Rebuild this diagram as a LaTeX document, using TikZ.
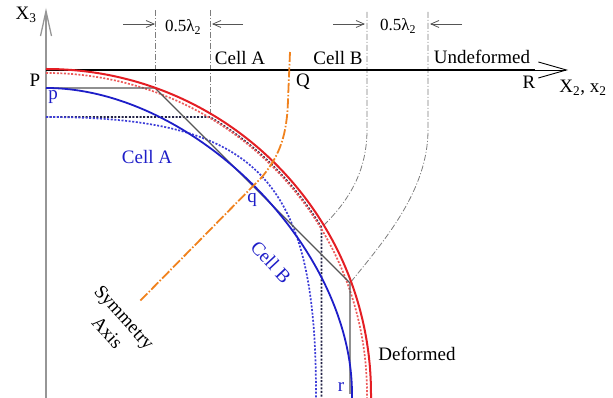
\documentclass[tikz,border=0pt]{standalone}
\usepackage{fontspec}
\setmainfont{Liberation Serif}
\usetikzlibrary{arrows.meta}
\definecolor{redc}{RGB}{228,30,36}
\definecolor{reddot}{RGB}{236,90,90}
\definecolor{bluec}{RGB}{30,30,200}
\definecolor{bluedot}{RGB}{60,60,215}
\definecolor{navydot}{RGB}{35,35,70}
\definecolor{orangec}{RGB}{240,130,30}
\definecolor{grayline}{RGB}{85,85,85}
\definecolor{ddgray}{RGB}{125,125,125}
\definecolor{axisgray}{RGB}{150,150,150}
\begin{document}
\begin{tikzpicture}[x=1pt,y=1pt,
  lbl/.style={inner sep=0pt, font=\fontsize{19}{23}\selectfont},
  smalllbl/.style={inner sep=0pt, font=\fontsize{17}{20}\selectfont},
  bluelbl/.style={lbl, text=bluec},
  redline/.style={redc, line width=2pt},
  reddotted/.style={reddot, line width=1.7pt, dash pattern=on 2pt off 1.6pt},
  blueline/.style={bluec, line width=1.8pt},
  bluedotted/.style={bluedot, line width=1.7pt, dash pattern=on 2pt off 1.6pt},
  navydotted/.style={navydot, line width=1.7pt, dash pattern=on 2pt off 1.6pt},
  polyline/.style={grayline, line width=1.3pt},
  dashdot/.style={ddgray, line width=0.8pt, dash pattern=on 6pt off 2pt on 1pt off 2pt},
  orangeline/.style={orangec, line width=1.8pt, dash pattern=on 10pt off 2pt on 1.5pt off 2pt},
  dimarrow/.style={grayline, line width=0.8pt, -{Straight Barb[length=8pt,width=7pt]}},
]
\useasboundingbox (0,0) rectangle (613,398);
% key points
\coordinate (Ybot) at (46,0);
\coordinate (Ytop) at (46,390);
\coordinate (P) at (46,328);
\coordinate (Rend) at (535,328);
\coordinate (Xtip) at (568,328);
\coordinate (redtop) at (46,329);
\coordinate (reddtop) at (46,325);
\coordinate (p) at (46,310);
\coordinate (A) at (155,310);
\coordinate (C) at (350,115);
\coordinate (rb) at (350,4);
\coordinate (blueend) at (352,4);
\coordinate (dtop) at (46,281);
\coordinate (D1) at (210,281);
\coordinate (D2) at (321.4,170.5);
\coordinate (bdend) at (316,4);
% dash-dot mapping lines
\coordinate (L1) at (155,388);
\coordinate (L2) at (210,388);
\coordinate (L3) at (367,386);
\coordinate (L3b) at (367,268);
\coordinate (L4) at (428,386);
\coordinate (L4b) at (428,268);
\draw[dashdot] (L1) -- (A);
\draw[dashdot] (L2) -- (D1);
\draw[dashdot] (L3) -- (L3b) .. controls (367,223) and (345,193) .. (D2);
\draw[dashdot] (L4) -- (L4b) .. controls (428,208) and (385,158) .. (C);
% dimension arrows
\coordinate (a1s) at (123,374); \coordinate (a1e) at (155,374);
\coordinate (a2s) at (243,374); \coordinate (a2e) at (212,374);
\coordinate (a3s) at (333,374); \coordinate (a3e) at (365,374);
\coordinate (a4s) at (462,374); \coordinate (a4e) at (430,374);
\draw[dimarrow] (a1s) -- (a1e);
\draw[dimarrow] (a2s) -- (a2e);
\draw[dimarrow] (a3s) -- (a3e);
\draw[dimarrow] (a4s) -- (a4e);
% axes
\draw[axisgray, line width=1.3pt, -{Straight Barb[length=25pt,width=11pt]}] (Ybot) -- (Ytop);
\draw[black, line width=0.9pt, -{Straight Barb[length=28pt,width=16pt]}] (P) -- (Xtip);
\draw[black, line width=2pt] (P) -- (Rend);
% dotted curves
\draw[navydotted] (dtop) -- (D1) arc[start angle=59.4, end angle=31.1, radius=321] -- (321.4,0);
\draw[bluedotted] (dtop) .. controls (257,281) and (316,220) .. (bdend) -- (316,0);
\draw[reddotted] (reddtop) arc[start angle=90, end angle=0, radius=321] -- (367,0);
% gray polyline
\draw[polyline] (p) -- (A) -- (C) -- (rb);
% blue deformed curve
\draw[blueline] (p) .. controls (193,310) and (352,151) .. (blueend) -- (352,0);
% red curve
\draw[redline] (redtop) arc[start angle=90, end angle=0, radius=325] -- (371,0);
% symmetry axis
\coordinate (s1) at (290,346);
\coordinate (s2) at (288,298);
\coordinate (s3) at (262,221);
\coordinate (s4) at (139,96);
\draw[orangeline] (s1) -- (s2) .. controls (287,263) and (280,243) .. (s3) -- (s4);
% labels
\node[lbl] (tX3) at (26,383) {X\textsubscript{3}};
\node[smalllbl] (tlam1) at (183,371) {0.5λ\textsubscript{2}};
\node[smalllbl] (tlam2) at (398,372) {0.5λ\textsubscript{2}};
\node[lbl] (tcA) at (240,340) {Cell A};
\node[lbl] (tcB) at (338,340) {Cell B};
\node[lbl] (tund) at (482,341) {Undeformed};
\node[lbl] (tP) at (35,318) {P};
\node[lbl] (tQ) at (303,316) {Q};
\node[lbl] (tR) at (529,316) {R};
\node[lbl] (tX2) at (583,310) {X\textsubscript{2}, x\textsubscript{2}};
\node[bluelbl] (tp) at (53,301) {p};
\node[bluelbl] (tq) at (252,198) {q};
\node[bluelbl] (tr) at (341,11) {r};
\node[bluelbl] (tbA) at (147,241) {Cell A};
\node[bluelbl, rotate=-47] (tbB) at (271,136) {Cell B};
\node[lbl, rotate=-48, align=center] (tsym) at (116,73) {Symmetry\\Axis};
\node[lbl] (tdef) at (417,44) {Deformed};
\end{tikzpicture}
\end{document}
